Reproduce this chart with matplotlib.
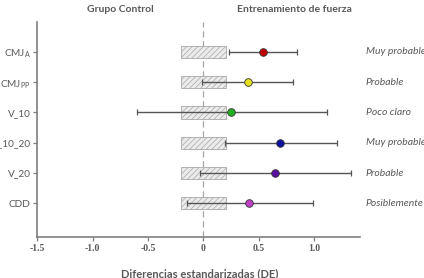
import numpy as np
import matplotlib
matplotlib.use('Agg')
import matplotlib.pyplot as plt

plt.rcParams['mathtext.fontset'] = 'custom'
plt.rcParams['mathtext.rm'] = 'Lato'
plt.rcParams['hatch.color'] = '#9a9a9a'
plt.rcParams['hatch.linewidth'] = 0.5

# data (top row first)
labels = [r'CMJ$_{\mathrm{A}}$', r'CMJ$_{\mathrm{PP}}$', 'V_10', 'V_10_20', 'V_20', 'CDD']
es_mean = [0.54, 0.40, 0.25, 0.69, 0.64, 0.41]
ci_low = [0.23, -0.01, -0.60, 0.19, -0.03, -0.15]
ci_high = [0.84, 0.81, 1.11, 1.20, 1.33, 0.99]
outcome = ['Muy probable', 'Probable', 'Poco claro', 'Muy probable', 'Probable', 'Posiblemente']
colors = ['#c00000', '#e6e020', '#22b020', '#1010a0', '#5a10a0', '#c040c8']
trivial = 0.2

gray = '#595959'
ypos = np.arange(len(labels))[::-1] + 1

fig = plt.figure(figsize=(4.24, 2.78), dpi=100)
ax = fig.add_axes([0.0873, 0.149, 0.7617, 0.773])

# smallest worthwhile change zone
ax.barh(ypos, 2*trivial, left=-trivial, height=0.4, color='#ebebeb',
        edgecolor='#a8a8a8', hatch='//////', linewidth=0.6, zorder=1)
ax.axvline(0, color='#a6a6a6', ls=(0, (5, 3)), lw=0.9, zorder=0.5)

for y, m, lo, hi, c in zip(ypos, es_mean, ci_low, ci_high, colors):
    ax.errorbar(m, y, xerr=[[m - lo], [hi - m]], fmt='none', ecolor='#555555',
                elinewidth=1.0, capsize=2.5, capthick=0.9, zorder=2)
    ax.plot(m, y, 'o', ms=5.5, mfc=c, mec='#333333', mew=0.6, zorder=3)

for y, txt in zip(ypos, outcome):
    ax.text(1.46, y, txt, ha='left', va='center', fontsize=7.5, style='italic',
            color=gray, family='Lato', clip_on=False)

ax.set_xlim(-1.5, 1.41)
ax.set_ylim(-0.1, 7.0)
ax.set_yticks(ypos)
ax.set_yticklabels(labels, fontsize=7.2, color=gray, family='Lato')
ax.set_xticks([-1.5, -1.0, -0.5, 0, 0.5, 1.0])
ax.set_xticklabels(['-1.5', '-1.0', '-0.5', '0', '0.5', '1.0'], fontsize=7,
                   color=gray, family='Liberation Serif', fontweight='bold')
ax.tick_params(axis='both', direction='out', length=3, width=0.9, color='#7f7f7f', pad=2)
ax.tick_params(axis='y', pad=1.5)
for s in ['top', 'right']:
    ax.spines[s].set_visible(False)
for s in ['left', 'bottom']:
    ax.spines[s].set_color('#7f7f7f')
    ax.spines[s].set_linewidth(1.2)

fig.text(120/424, 1 - 10/278, 'Grupo Control', ha='center', va='center',
         fontsize=7.5, fontweight='bold', color=gray, family='Lato')
fig.text(294/424, 1 - 10/278, 'Entrenamiento de fuerza', ha='center', va='center',
         fontsize=7.5, fontweight='bold', color=gray, family='Lato')
fig.text(200/424, 1 - 274/278, 'Diferencias estandarizadas (DE)', ha='center', va='center',
         fontsize=8, fontweight='bold', color=gray, family='Lato')

fig.savefig('out.png', dpi=100)
